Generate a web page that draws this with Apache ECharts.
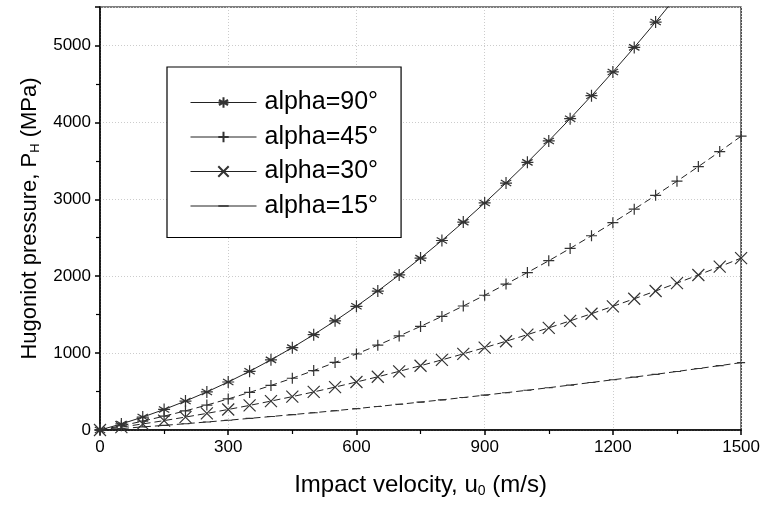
<!DOCTYPE html>
<html>
<head>
<meta charset="utf-8">
<script src="https://cdn.jsdelivr.net/npm/echarts@6/dist/echarts.min.js"></script>
<style>
html,body{margin:0;padding:0;background:#fff;}
#chart{width:763px;height:505px;}
</style>
</head>
<body>
<div id="chart"></div>
<script>
// Impact velocity u0 (m/s)
const velocity = [0,50,100,150,200,250,300,350,400,450,500,550,600,650,700,750,800,850,900,950,1000,1050,1100,1150,1200,1250,1300,1350,1400,1450,1500];
// Hugoniot pressure (MPa)
const alpha90 = [0,79,168,267,376,495,624,763,912,1071,1240,1419,1608,1807,2016,2235,2464,2703,2952,3211,3480,3759,4048,4347,4656,4975,5304,5643,5992,6351,6720];
const alpha45 = [0,55,115,180,249,324,404,489,579,673,773,878,988,1103,1223,1347,1477,1612,1752,1897,2047,2201,2361,2526,2696,2871,3051,3235,3425,3620,3820];
const alpha30 = [0,38,79,122,168,216,267,320,376,434,495,558,624,692,763,836,912,990,1071,1154,1240,1328,1419,1512,1608,1706,1807,1910,2016,2124,2235];
const alpha15 = [0,19,40,60,82,104,127,151,175,200,225,251,278,306,334,363,392,422,453,485,517,550,584,618,653,688,724,761,799,837,876];
const seriesNames = ['alpha=90°','alpha=45°','alpha=30°','alpha=15°'];
const xTicks = [0,300,600,900,1200,1500];
const yTicks = [0,1000,2000,3000,4000,5000];

const FONT = 'Arial, "Liberation Sans", sans-serif';
const lineColor = '#222';

function pairs(vals){ return velocity.map((v,i)=>[v, vals[i]]); }

const starPath = 'path://M0,-10L0,10M-8.66,-5L8.66,5M-8.66,5L8.66,-5M-10,0L10,0';
const plusPath = 'path://M0,-10L0,10M-10,0L10,0';
const crossPath = 'path://M-10,-10L10,10M-10,10L10,-10';
const dashPath = 'path://M-5,-5L-4.99,-5M-5,-0.7L5,-0.7L5,0.7L-5,0.7ZM5,5L4.99,5';

function mk(name, vals, symbol, size, dashed, sym){
  return {
    name: name,
    type: 'line',
    data: pairs(vals),
    symbol: symbol,
    symbolSize: size,
    showAllSymbol: true,
    clip: true,
    smooth: false,
    lineStyle: {color: lineColor, width: 1, type: dashed ? [7,4] : 'solid'},
    itemStyle: sym || {color: 'none', borderColor: '#333', borderWidth: 1.2},
    emphasis: {disabled: true},
    animation: false
  };
}

const chart = echarts.init(document.getElementById('chart'), null, {renderer:'canvas'});
chart.setOption({
  backgroundColor: '#fff',
  animation: false,
  grid: {left: 100, right: 17, top: 7, bottom: 75, show: true, borderColor: '#000', borderWidth: 1.2, backgroundColor: 'transparent'},
  legend: {
    orient: 'vertical',
    left: 167, top: 67,
    padding: [23, 23, 19, 23],
    itemGap: 9.5,
    itemWidth: 66, itemHeight: 13,
    borderColor: '#000', borderWidth: 1.2,
    backgroundColor: '#fff',
    data: seriesNames,
    lineStyle: {type: 'solid', width: 1, color: '#222'},
    textStyle: {fontFamily: FONT, fontSize: 25, color: '#000', padding: [0,0,0,3]},
    selectedMode: false
  },
  xAxis: {
    type: 'value', min: 0, max: 1500, interval: 300,
    name: '{a|Impact velocity, u}{s|0}{a| (m/s)}',
    nameLocation: 'middle', nameGap: 42,
    nameTextStyle: {rich: {
      a: {fontFamily: FONT, fontSize: 24, color: '#000'},
      s: {fontFamily: FONT, fontSize: 14, color: '#000', padding: [12,0,0,0]}
    }},
    axisLine: {show: true, onZero: false, lineStyle: {color: '#000', width: 1.5}},
    axisTick: {show: true, inside: false, length: 5, lineStyle: {color: '#000', width: 1.5}},
    minorTick: {show: true, splitNumber: 2, length: 4, lineStyle: {color: '#000', width: 1.2}},
    axisLabel: {fontFamily: FONT, fontSize: 17, color: '#000', margin: 9,
      formatter: v => xTicks.includes(v) ? String(v) : ''},
    splitLine: {show: true, lineStyle: {color: '#ccc', type: [1,2], width: 1}}
  },
  yAxis: {
    type: 'value', min: 0, max: 5500, interval: 1000,
    name: '{a|Hugoniot pressure, P}{s|H}{a| (MPa)}',
    nameLocation: 'middle', nameGap: 54, nameRotate: 90,
    nameTextStyle: {rich: {
      a: {fontFamily: FONT, fontSize: 22, color: '#000'},
      s: {fontFamily: FONT, fontSize: 13, color: '#000', padding: [12,0,0,0]}
    }},
    axisLine: {show: true, onZero: false, lineStyle: {color: '#000', width: 1.5}},
    axisTick: {show: true, inside: false, length: 5, lineStyle: {color: '#000', width: 1.5}},
    minorTick: {show: true, splitNumber: 2, length: 4, lineStyle: {color: '#000', width: 1.2}},
    axisLabel: {fontFamily: FONT, fontSize: 17, color: '#000', margin: 9, showMaxLabel: false,
      formatter: v => yTicks.includes(v) ? String(v) : ''},
    splitLine: {show: true, lineStyle: {color: '#ccc', type: [1,2], width: 1}}
  },
  series: [
    mk(seriesNames[0], alpha90, starPath, 12, false),
    mk(seriesNames[1], alpha45, plusPath, 11, true),
    mk(seriesNames[2], alpha30, crossPath, 12, true),
    mk(seriesNames[3], alpha15, dashPath, 8, true, {color: '#333', borderWidth: 0})
  ]
});
</script>
</body>
</html>
